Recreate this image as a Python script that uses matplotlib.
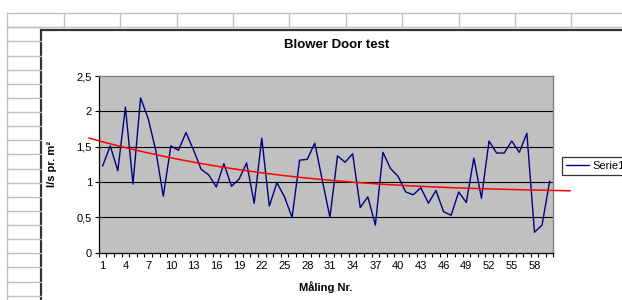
import numpy as np
import matplotlib
matplotlib.use("Agg")
import matplotlib.pyplot as plt
from matplotlib.lines import Line2D
from matplotlib.patches import Rectangle

# ==============================================================================
# DATA
# ==============================================================================
TITLE = "Blower Door test"
X_LABEL = "Måling Nr."
Y_LABEL = "l/s pr. m²"
SERIES_NAME = "Serie1"

measurement_nr = np.arange(1, 61)
flow_values = [
    1.23, 1.51, 1.16, 2.06, 0.97, 2.19, 1.90, 1.45, 0.80, 1.51,
    1.45, 1.70, 1.45, 1.18, 1.10, 0.93, 1.26, 0.94, 1.04, 1.27,
    0.70, 1.62, 0.66, 0.99, 0.79, 0.50, 1.31, 1.32, 1.55, 1.02,
    0.50, 1.37, 1.28, 1.40, 0.64, 0.79, 0.39, 1.42, 1.19, 1.08,
    0.86, 0.82, 0.92, 0.70, 0.88, 0.58, 0.53, 0.86, 0.71, 1.34,
    0.77, 1.58, 1.41, 1.41, 1.58, 1.42, 1.69, 0.29, 0.39, 1.01,
]

# trendline (red), incl. Excel forecast ends
trend_x = [-0.8, 14.5, 29.0, 39.9, 43.5, 62.7]
trend_y = [1.62, 1.259, 1.035, 0.955, 0.943, 0.875]

y_ticks = [0, 0.5, 1, 1.5, 2, 2.5]
y_tick_labels = ["0", "0,5", "1", "1,5", "2", "2,5"]
x_label_step = 3

# ==============================================================================
# LAYOUT (pixels of the 622x300 screenshot)
# ==============================================================================
W, H = 622, 300
plt.rcParams["font.family"] = ["Liberation Sans", "DejaVu Sans"]


def fx(x):
    return x / W


def fy(y):
    return 1 - y / H


fig = plt.figure(figsize=(W / 100, H / 100), dpi=100)
fig.patch.set_facecolor("white")

# --- spreadsheet cell grid behind the chart ---
cell_col = "#c0c0c0"
row_h = 14.125
col_w = 56.4
for k in range(20):
    y = 27.3 + k * row_h
    if y > H:
        break
    fig.add_artist(Line2D([fx(7.3), fx(41)], [fy(y), fy(y)], color=cell_col, lw=1.0))
for y in (13.3, 27.3):
    fig.add_artist(Line2D([fx(7.3), fx(W)], [fy(y), fy(y)], color=cell_col, lw=1.0))
fig.add_artist(Line2D([fx(7.3), fx(7.3)], [fy(13.3), fy(H)], color=cell_col, lw=1.0))
for k in range(1, 12):
    x = 7.3 + k * col_w
    fig.add_artist(Line2D([fx(x), fx(x)], [fy(13.3), fy(27.3)], color=cell_col, lw=1.0))

# --- chart area (white with dark border on left/top) ---
fig.add_artist(Rectangle((fx(41.3), fy(H + 5)), fx(W + 10 - 41.3), (H + 5 - 30) / H,
                         transform=fig.transFigure, facecolor="white",
                         edgecolor="#333333", lw=1.6, zorder=1))

# --- plot area ---
ax = fig.add_axes([fx(98.9), fy(252.7), fx(553.4 - 98.9), (252.7 - 76) / H])
ax.set_zorder(2)
ax.set_facecolor("#c0c0c0")

ax.plot(measurement_nr, flow_values, color="#000080", lw=1.0, label=SERIES_NAME, zorder=3)

coef = np.polyfit(trend_x, trend_y, 3)
xt = np.linspace(trend_x[0], trend_x[-1], 200)
ax.plot(xt, np.polyval(coef, xt), color="#ff0000", lw=1.1, clip_on=False, zorder=4)

ax.set_xlim(0.5, len(measurement_nr) + 0.5)
ax.set_ylim(0, 2.5)

for v in y_ticks[1:-1]:
    ax.axhline(v, color="black", lw=0.8, zorder=2)

# x axis: tick marks between categories, labels on every 3rd category
ax.set_xticks(np.arange(0.5, len(measurement_nr) + 1, 1.0))
ax.set_xticklabels([])
ax.tick_params(axis="x", which="major", direction="out", length=3, width=0.8, color="black")
ax.set_xticks(measurement_nr[::x_label_step], minor=True)
ax.set_xticklabels([str(v) for v in measurement_nr[::x_label_step]], minor=True)
ax.tick_params(axis="x", which="minor", length=0, pad=6, labelsize=8)

ax.set_yticks(y_ticks)
ax.set_yticklabels(y_tick_labels)
ax.tick_params(axis="y", direction="out", length=3, width=0.8, pad=2, labelsize=8)

for side in ("top", "right"):
    ax.spines[side].set_color("#808080")
    ax.spines[side].set_linewidth(1.0)
for side in ("left", "bottom"):
    ax.spines[side].set_color("black")
    ax.spines[side].set_linewidth(0.9)

# --- texts ---
fig.text(fx(337), fy(45), TITLE, ha="center", va="center", fontsize=9.5,
         fontweight="bold", zorder=5)
fig.text(fx(326), fy(287), X_LABEL, ha="center", va="center", fontsize=8,
         fontweight="bold", zorder=5)
fig.text(fx(52), fy(164), Y_LABEL, ha="center", va="center", fontsize=8,
         fontweight="bold", rotation=90, zorder=5)

leg = ax.legend(loc="upper left", bbox_to_anchor=(fx(561.7), fy(157.3)),
                bbox_transform=fig.transFigure, borderaxespad=0, fontsize=8,
                frameon=True, fancybox=False, handlelength=2.1, handletextpad=0.3,
                borderpad=0.35)
leg.get_frame().set_edgecolor("black")
leg.get_frame().set_linewidth(0.9)

plt.savefig("out.png", dpi=100)
